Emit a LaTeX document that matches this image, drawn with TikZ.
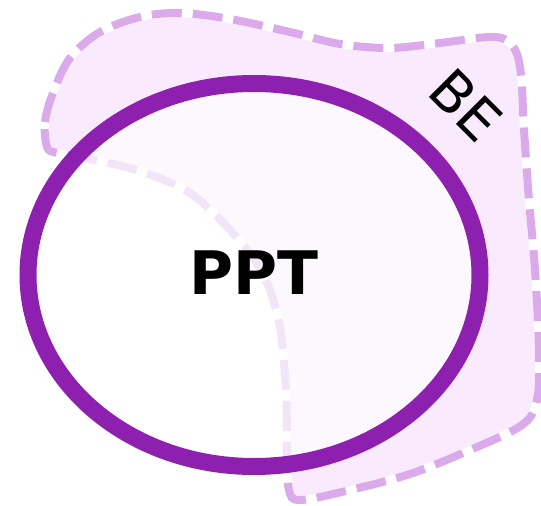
\documentclass[tikz,border=0pt]{standalone}
\usepackage{fontspec}
\usetikzlibrary{shapes.geometric}
\setmainfont{DejaVu Sans}
\definecolor{ppt}{HTML}{8E20B0}
\definecolor{beline}{HTML}{DAAAEA}
\definecolor{befill}{HTML}{FAEAFD}
\begin{document}
\begin{tikzpicture}[x=1pt,y=-1pt,
  blobline/.style={line width=8pt,beline,dash pattern=on 30pt off 11pt},
  blobhalo/.style={line width=8pt,white},
  ringnode/.style={ellipse,draw=ppt,line width=17pt,fill=white,fill opacity=0.7,
    draw opacity=1,minimum width=452pt,minimum height=383pt,inner sep=0pt},
  lbl/.style={inner sep=0pt,font=\fontsize{60}{60}\selectfont\bfseries},
  belbl/.style={inner sep=0pt,font=\fontsize{56}{56}\selectfont,rotate=-45}]
\useasboundingbox (0,0) rectangle (541,506);
% the BE region
\def\blobpath{plot[smooth cycle,tension=0.55] coordinates {
  (47,147) (45,122) (53,93) (70,58) (100,32) (140,17) (180,13) (230,19)
  (290,32) (340,44) (390,48) (440,43) (495,37) (514,48) (521,75)
  (524,130) (529,200) (535,270) (539,350) (537,400) (522,425)
  (470,450) (410,474) (350,490) (300,500) (289,490) (287,455)
  (286,390) (279,322) (262,272) (232,232) (190,193) (140,171)
  (85,158) (57,153)}}
\fill[befill] \blobpath;
\draw[blobhalo] \blobpath;
\draw[blobline] \blobpath;
% the PPT ring
\node[ringnode] (ring) at (254,275) {};
\node[lbl] (ppt) at (254,273) {PPT};
\node[belbl] (be) at (466,105) {BE};
\end{tikzpicture}
\end{document}
